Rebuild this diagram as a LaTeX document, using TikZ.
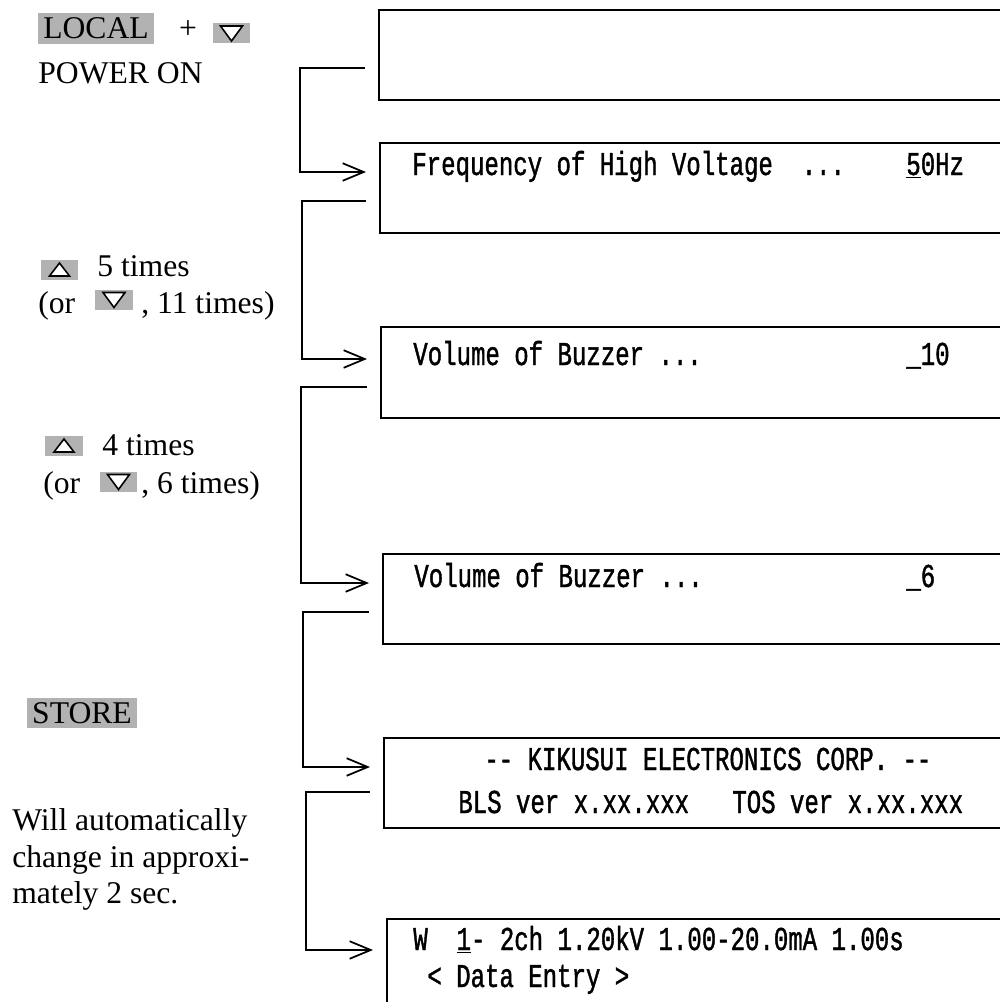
\documentclass[tikz,border=0pt]{standalone}
\usepackage{fontspec}
\setmainfont{Liberation Serif}
\newfontfamily\lcdfont[FakeStretch=0.72,FakeBold=1.2]{Liberation Mono}
\usetikzlibrary{arrows.meta}
\begin{document}
\begin{tikzpicture}[x=0.02cm, y=-0.02cm,
  lcd/.style={draw, line width=1.1pt, inner sep=0pt, anchor=north west,
    minimum width=12.8cm, minimum height=1.8cm},
  lcdtext/.style={anchor=base west, inner sep=0pt,
    font=\lcdfont\fontsize{19}{22}\selectfont},
  lbl/.style={anchor=base west, inner sep=0pt,
    font=\fontsize{18}{20.7}\selectfont},
  keybox/.style={fill=black!30, inner sep=0pt,
    font=\fontsize{18}{20.7}\selectfont},
  trikey/.style={keybox, minimum width=0.76cm, minimum height=0.4cm},
  tri/.style={draw, fill=white, line width=0.9pt, line join=miter},
  conn/.style={line width=1pt,
    -{Straight Barb[length=12pt,width=10pt,line width=1pt]}}]
\useasboundingbox (0,0) rectangle (1000,1002);
\clip (0,0) rectangle (1000,1002);

% display boxes
\node[lcd] (b1) at (378,9) {};
\node[lcd] (b2) at (379,142) {};
\node[lcd, minimum height=1.82cm] (b3) at (380,326) {};
\node[lcd] (b4) at (382,553) {};
\node[lcd] (b5) at (383,737) {};
\node[lcd, minimum height=2.2cm] (b6) at (386,918) {};

% connectors
\draw[conn] ([shift={(-13,59)}]b1.north west) -- ++(-65,0) |- ([shift={(-13,30)}]b2.north west);
\draw[conn] ([shift={(-13,59)}]b2.north west) -- ++(-64,0) |- ([shift={(-13,33)}]b3.north west);
\draw[conn] ([shift={(-13,61)}]b3.north west) -- ++(-66,0) |- ([shift={(-13,30)}]b4.north west);
\draw[conn] ([shift={(-13,59)}]b4.north west) -- ++(-66,0) |- ([shift={(-13,30)}]b5.north west);
\draw[conn] ([shift={(-13,55)}]b5.north west) -- ++(-64,0) |- ([shift={(-13,32)}]b6.north west);

% display texts
\node[lcdtext] (t2a) at (412,175) {Frequency of High Voltage~~...};
\node[lcdtext] (t2b) at (906,175) {\underline{5}0Hz};
\node[lcdtext] (t3a) at (413,365) {Volume of Buzzer ...};
\node[lcdtext] (t3b) at (906,365) {\_10};
\node[lcdtext] (t4a) at (414,587) {Volume of Buzzer ...};
\node[lcdtext] (t4b) at (906,587) {\_6};
\node[lcdtext] (t5a) at (484,770) {-{}- KIKUSUI ELECTRONICS CORP. -{}-};
\node[lcdtext] (t5b) at (458,813) {BLS ver x.xx.xxx~~~TOS ver x.xx.xxx};
\node[lcdtext] (t6a) at (413,950) {W~~\underline{1}- 2ch 1.20kV 1.00-20.0mA 1.00s};
\node[lcdtext] (t6b) at (427,987) {< Data Entry >};

% left labels
\node[keybox, minimum width=2.32cm, minimum height=0.62cm] (klocal) at (96,28.5) {LOCAL};
\node[inner sep=0pt, font=\fontsize{18}{20.7}\selectfont] (plus) at (188,30) {+};
\node[trikey] (kdn1) at (231.5,33) {};
\draw[tri] ([shift={(-11,-7)}]kdn1.center) -- ([shift={(11,-7)}]kdn1.center) -- ([shift={(0,8)}]kdn1.center) -- cycle;
\node[lbl] (pwr) at (38,83) {POWER ON};

\node[trikey] (kup1) at (59.5,270) {};
\draw[tri] ([shift={(0,-7)}]kup1.center) -- ([shift={(-10,6)}]kup1.center) -- ([shift={(10,6)}]kup1.center) -- cycle;
\node[lbl] (l5) at (97,276) {5 times};
\node[lbl] (lor1) at (38,313) {(or};
\node[trikey] (kdn2) at (114,299.5) {};
\draw[tri] ([shift={(-11,-7)}]kdn2.center) -- ([shift={(11,-7)}]kdn2.center) -- ([shift={(0,8)}]kdn2.center) -- cycle;
\node[lbl] (l11) at (141,313) {, 11 times)};

\node[trikey] (kup2) at (64,446) {};
\draw[tri] ([shift={(0,-7)}]kup2.center) -- ([shift={(-10,6)}]kup2.center) -- ([shift={(10,6)}]kup2.center) -- cycle;
\node[lbl] (l4) at (102,455) {4 times};
\node[lbl] (lor2) at (43,493) {(or};
\node[trikey] (kdn3) at (118.5,481.5) {};
\draw[tri] ([shift={(-11,-7)}]kdn3.center) -- ([shift={(11,-7)}]kdn3.center) -- ([shift={(0,8)}]kdn3.center) -- cycle;
\node[lbl] (l6) at (141,493) {, 6 times)};

\node[keybox, minimum width=2.2cm, minimum height=0.6cm] (kstore) at (82,713) {STORE};

\node[lbl] (w1) at (12,830) {Will automatically};
\node[lbl] (w2) at (12,867) {change in approxi-};
\node[lbl] (w3) at (12,903) {mately 2 sec.};
\end{tikzpicture}
\end{document}
